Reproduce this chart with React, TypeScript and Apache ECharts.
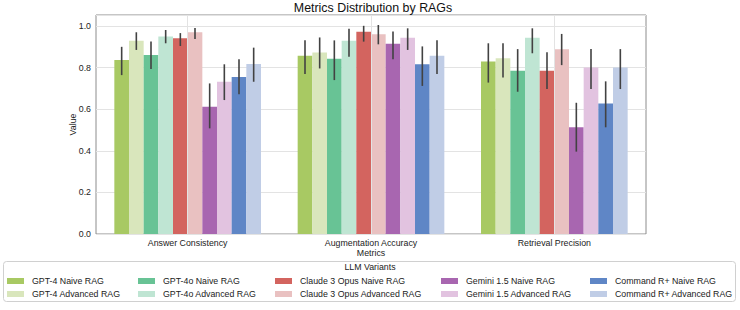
import React, { useEffect, useRef } from "react";
import * as echarts from "echarts";

const categories = ["Answer Consistency", "Augmentation Accuracy", "Retrieval Precision"];
const seriesNames = [
  "GPT-4 Naive RAG",
  "GPT-4 Advanced RAG",
  "GPT-4o Naive RAG",
  "GPT-4o Advanced RAG",
  "Claude 3 Opus Naive RAG",
  "Claude 3 Opus Advanced RAG",
  "Gemini 1.5 Naive RAG",
  "Gemini 1.5 Advanced RAG",
  "Command R+ Naive RAG",
  "Command R+ Advanced RAG",
];
const colors = [
  "#a8c963", "#d9e6bc", "#68c395", "#bfe5d3", "#d3645f",
  "#e9c1c1", "#a866b0", "#e2c3e0", "#5f86c6", "#c0cde6",
];
// mean values per series: [Answer Consistency, Augmentation Accuracy, Retrieval Precision]
const means = [
  [0.837, 0.857, 0.829],
  [0.929, 0.873, 0.845],
  [0.861, 0.843, 0.785],
  [0.950, 0.929, 0.944],
  [0.941, 0.973, 0.785],
  [0.970, 0.960, 0.888],
  [0.612, 0.915, 0.513],
  [0.732, 0.944, 0.800],
  [0.755, 0.816, 0.628],
  [0.817, 0.857, 0.800],
];
const errLow = [
  [0.764, 0.769, 0.728],
  [0.885, 0.796, 0.753],
  [0.793, 0.740, 0.684],
  [0.917, 0.852, 0.869],
  [0.904, 0.925, 0.697],
  [0.938, 0.912, 0.812],
  [0.508, 0.840, 0.396],
  [0.644, 0.885, 0.697],
  [0.672, 0.712, 0.513],
  [0.732, 0.769, 0.697],
];
const errHigh = [
  [0.900, 0.931, 0.917],
  [0.970, 0.945, 0.917],
  [0.925, 0.931, 0.889],
  [0.981, 0.987, 0.989],
  [0.966, 1.001, 0.874],
  [0.990, 1.005, 0.962],
  [0.724, 0.974, 0.631],
  [0.816, 0.989, 0.889],
  [0.840, 0.902, 0.734],
  [0.896, 0.931, 0.889],
];
const yTicks = [0, 0.2, 0.4, 0.6, 0.8, 1.0];
const titleText = "Metrics Distribution by RAGs";
const legendTitle = "LLM Variants";

const FONT = "Liberation Sans, Arial, sans-serif";
const FS = 8.8;

export default function App() {
  const ref = useRef<HTMLDivElement>(null);
  useEffect(() => {
    if (!ref.current) return;
    document.body.style.margin = "0";
    const chart = echarts.init(ref.current, undefined, { renderer: "svg" });
    const nS = seriesNames.length;

    const barSeries = seriesNames.map((name, i) => ({
      name,
      type: "bar",
      data: means[i],
      itemStyle: { color: colors[i] },
      barGap: "0%",
      barCategoryGap: "20%",
      z: 2,
    }));

    const errData: number[][] = [];
    for (let i = 0; i < nS; i++) {
      for (let c = 0; c < categories.length; c++) {
        errData.push([c, i, errLow[i][c], errHigh[i][c]]);
      }
    }

    const errSeries = {
      type: "custom",
      name: "err",
      z: 5,
      silent: true,
      data: errData,
      encode: { x: 0, y: [2, 3] },
      renderItem: (params: any, api: any) => {
        const c = api.value(0);
        const i = api.value(1);
        const lo = api.coord([c, api.value(2)]);
        const hi = api.coord([c, api.value(3)]);
        const catW = api.size([1, 0])[0];
        const bw = (catW * 0.8) / nS;
        const x = lo[0] + (i - (nS - 1) / 2) * bw;
        return {
          type: "line",
          shape: { x1: x, y1: lo[1], x2: x, y2: hi[1] },
          style: { stroke: "#424242", lineWidth: 1.6 },
        };
      },
    };

    const gridLineSeries = {
      type: "line",
      name: "vgrid",
      data: [],
      z: 1,
      silent: true,
      markLine: {
        silent: true,
        symbol: "none",
        label: { show: false },
        lineStyle: { color: "#e3e3e3", type: "solid", width: 1 },
        data: categories.map((c) => ({ xAxis: c })),
      },
    };

    const colX = [7, 138, 275, 441, 590];
    const legends = colX.map((x, k) => ({
      orient: "vertical",
      left: x,
      top: 275.5,
      itemWidth: 17,
      itemHeight: 6,
      itemGap: 2,
      icon: "rect",
      selectedMode: false,
      z: 10,
      data: [seriesNames[2 * k], seriesNames[2 * k + 1]],
      textStyle: { fontFamily: FONT, fontSize: FS, color: "#222", lineHeight: 11, padding: [0, 0, 0, 3] },
      padding: 0,
    }));

    chart.setOption({
      animation: false,
      textStyle: { fontFamily: FONT },
      grid: {
        left: 96,
        right: 94,
        top: 15,
        bottom: 76,
        show: true,
        borderColor: "#8c8c8c",
        borderWidth: 1,
        backgroundColor: "transparent",
      },
      xAxis: {
        type: "category",
        data: categories,
        axisTick: { show: false },
        axisLine: { show: false },
        axisLabel: { fontFamily: FONT, fontSize: FS, color: "#222", margin: 4 },
        splitLine: { show: false },
        name: "Metrics",
        nameLocation: "middle",
        nameGap: 14,
        nameMoveOverlap: false,
        nameTextStyle: { fontFamily: FONT, fontSize: FS, color: "#222" },
      },
      yAxis: {
        type: "value",
        min: 0,
        max: 1.053,
        interval: 0.2,
        axisLine: { show: false },
        axisTick: { show: false },
        axisLabel: {
          fontFamily: FONT,
          fontSize: FS,
          color: "#222",
          margin: 5,
          formatter: (v: number) =>
            yTicks.some((t) => Math.abs(t - v) < 1e-6) ? v.toFixed(1) : "",
        },
        splitLine: { lineStyle: { color: "#e3e3e3", width: 1 } },
        name: "Value",
        nameLocation: "middle",
        nameGap: 19,
        nameMoveOverlap: false,
        nameTextStyle: { fontFamily: FONT, fontSize: FS, color: "#222" },
      },
      legend: legends,
      graphic: [
        {
          type: "text",
          z: 20,
          x: 373,
          y: 7.8,
          style: {
            text: titleText,
            fontFamily: FONT,
            fontSize: 12.4,
            fill: "#111",
            textAlign: "center",
            textVerticalAlign: "middle",
          },
        },
        {
          type: "rect",
          z: 0,
          shape: { x: 3.5, y: 261.5, width: 732, height: 40, r: 3 },
          style: { fill: "#fff", stroke: "#d0d0d0", lineWidth: 1 },
        },
        {
          type: "text",
          z: 1,
          x: 370,
          y: 267,
          style: {
            text: legendTitle,
            fontFamily: FONT,
            fontSize: FS,
            fill: "#222",
            textAlign: "center",
            textVerticalAlign: "middle",
          },
        },
      ],
      series: [gridLineSeries, ...barSeries, errSeries],
    });
    return () => chart.dispose();
  }, []);
  return <div ref={ref} style={{ width: 740, height: 310 }} />;
}
